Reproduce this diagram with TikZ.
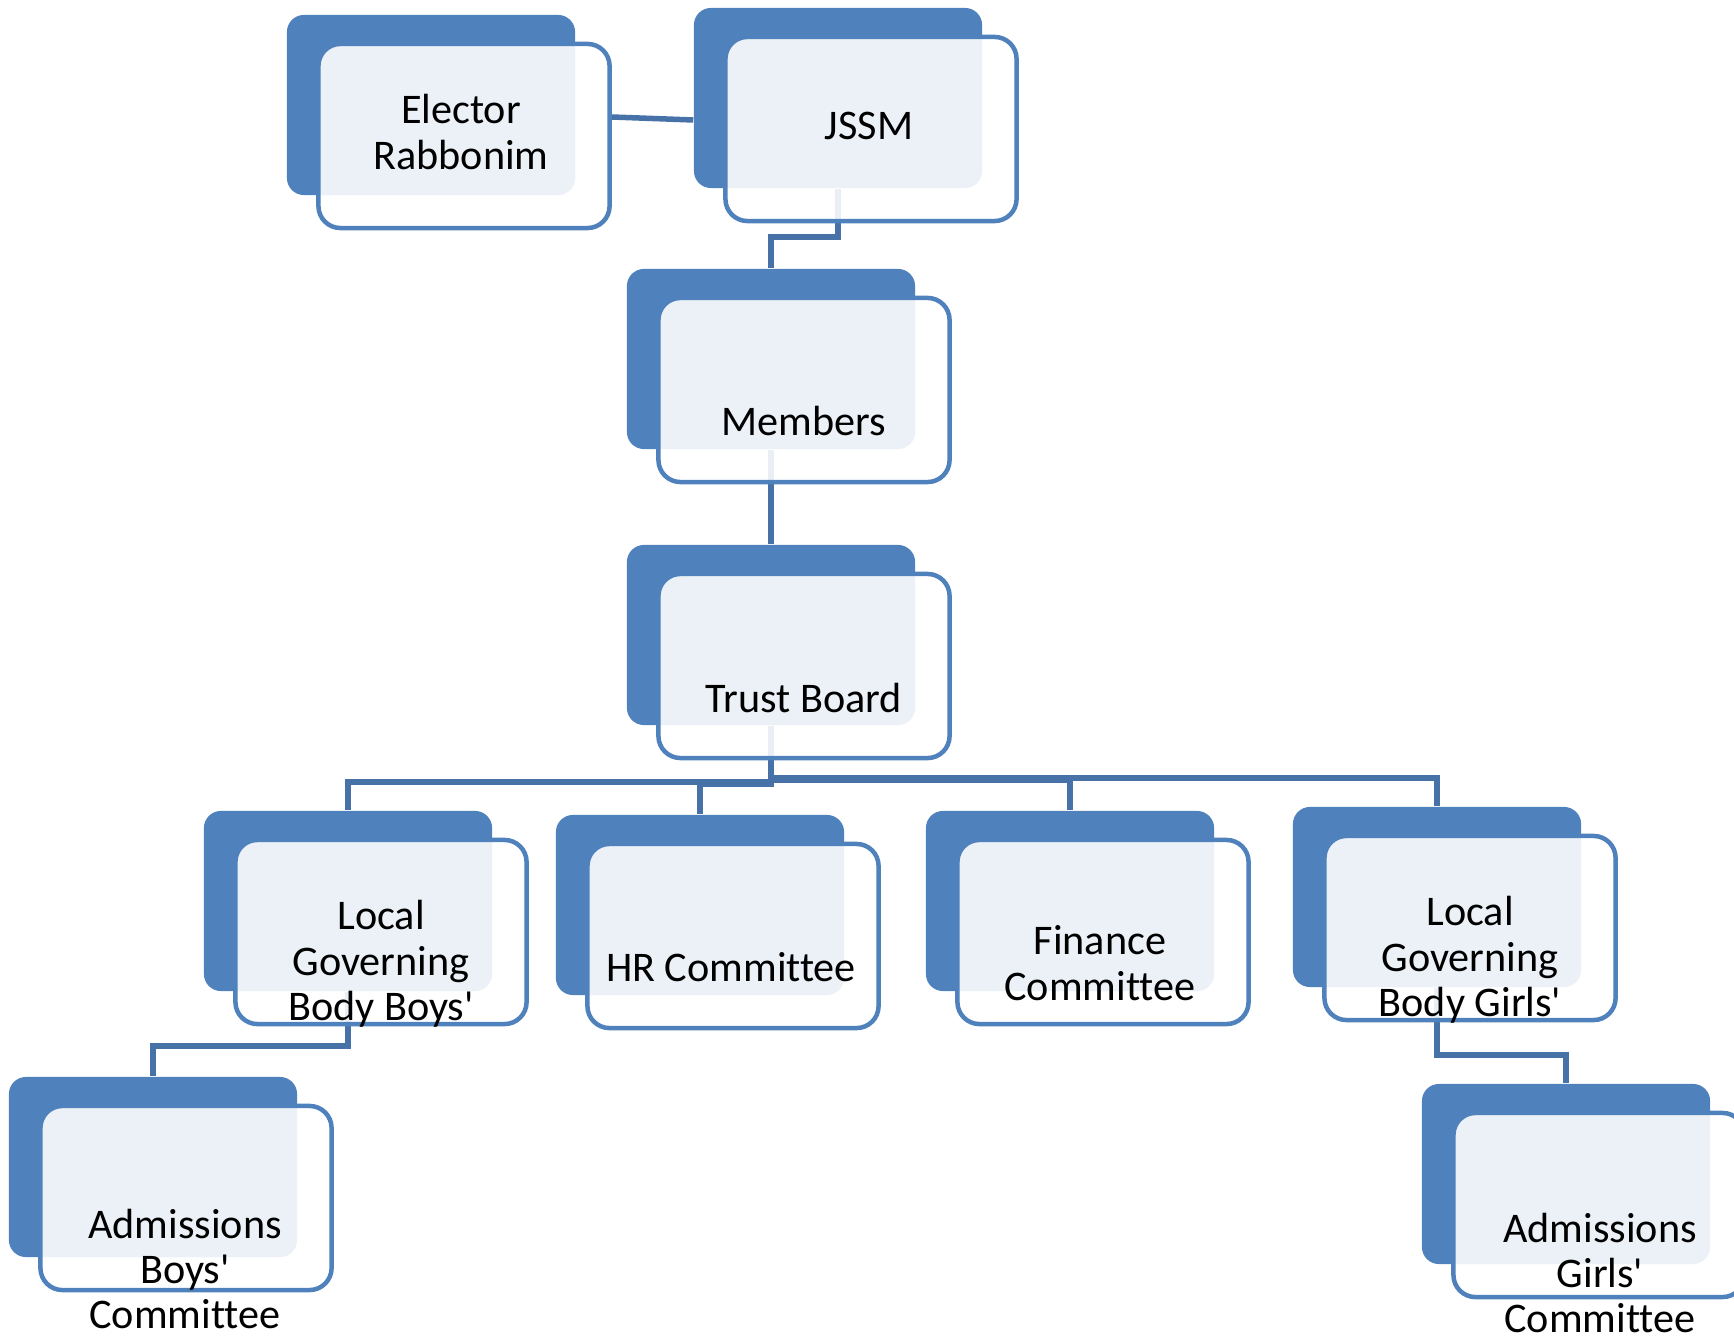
\documentclass[tikz,border=0pt]{standalone}
\usepackage{fontspec}
\setmainfont{Carlito}[Ligatures={TeXOff, NoCommon}]
\usetikzlibrary{positioning, backgrounds}
\definecolor{boxblue}{HTML}{4F81BD}
\definecolor{linkblue}{HTML}{4672A8}

\begin{document}
\begin{tikzpicture}[x=0.01cm, y=-0.01cm, font=\fontsize{12}{12.9}\selectfont,
	darkbox/.style={fill=boxblue, rounded corners=0.17cm, minimum width=2.88cm, minimum height=1.8cm, inner sep=0pt},
	frontbox/.style={fill=white, fill opacity=0.89, draw=boxblue, line width=0.045cm, rounded corners=0.22cm, minimum width=2.91cm, minimum height=1.84cm, inner sep=0pt},
	boxtext/.style={align=center, inner sep=0pt},
	orgline/.style={draw=linkblue, line width=0.055cm}]
	\useasboundingbox (0,0) rectangle (1734,1340);
	% top row
	\node[darkbox] (el) at (431,105) {};
	\node[frontbox] (el-f) at ([shift={(33,31)}]el.center) {};
	\node[boxtext] (el-t) at ([shift={(-3,-4)}]el-f.center) {Elector\\Rabbonim};
	\node[darkbox] (ju) at (838,98) {};
	\node[frontbox] (ju-f) at ([shift={(33,31)}]ju.center) {};
	\node[boxtext] (ju-t) at ([shift={(-2,-3)}]ju-f.center) {JSSM};
	% middle column
	\node[darkbox] (mem) at (771,359) {};
	\node[frontbox] (mem-f) at ([shift={(33,31)}]mem.center) {};
	\node[boxtext] (mem-t) at ([shift={(0,31)}]mem-f.center) {Members};
	\node[darkbox] (tb) at (771,635) {};
	\node[frontbox] (tb-f) at ([shift={(33,31)}]tb.center) {};
	\node[boxtext] (tb-t) at ([shift={(0,32)}]tb-f.center) {Trust Board};
	% committees
	\node[darkbox] (lgbb) at (348,901) {};
	\node[frontbox] (lgbb-f) at ([shift={(33,31)}]lgbb.center) {};
	\node[boxtext] (lgbb-t) at ([shift={(0,32)}]lgbb-f.center) {Local\\Governing\\Body Boys'};
	\node[darkbox] (hr) at (700,905) {};
	\node[frontbox] (hr-f) at ([shift={(33,31)}]hr.center) {};
	\node[boxtext] (hr-t) at ([shift={(-2,31)}]hr-f.center) {HR Committee};
	\node[darkbox] (fin) at (1070,901) {};
	\node[frontbox] (fin-f) at ([shift={(33,31)}]fin.center) {};
	\node[boxtext] (fin-t) at ([shift={(-3,31)}]fin-f.center) {Finance\\Committee};
	\node[darkbox] (lgbg) at (1437,897) {};
	\node[frontbox] (lgbg-f) at ([shift={(33,31)}]lgbg.center) {};
	\node[boxtext] (lgbg-t) at ([shift={(0,32)}]lgbg-f.center) {Local\\Governing\\Body Girls'};
	% admissions
	\node[darkbox] (admb) at (153,1167) {};
	\node[frontbox] (admb-f) at ([shift={(33,31)}]admb.center) {};
	\node[boxtext] (admb-t) at ([shift={(-1,71)}]admb-f.center) {Admissions\\Boys'\\Committee};
	\node[darkbox] (admg) at (1566,1174) {};
	\node[frontbox] (admg-f) at ([shift={(33,31)}]admg.center) {};
	\node[boxtext] (admg-t) at ([shift={(1,68)}]admg-f.center) {Admissions\\Girls'\\Committee};
	% connectors behind the boxes
	\begin{pgfonlayer}{background}
		\draw[orgline] ([shift={(0,-19)}]el-f.east) -- ([shift={(0,22)}]ju.west);
		\draw[orgline] (ju.south) -- ++(0,48) -| (mem.north);
		\draw[orgline] (mem.south) -- (tb.north);
		\draw[orgline] (tb.south) -- ++(0,56) -| (lgbb.north);
		\draw[orgline] (tb.south) -- ++(0,58) -| (hr.north);
		\draw[orgline] (tb.south) -- ++(0,54) -| (fin.north);
		\draw[orgline] (tb.south) -- ++(0,52) -| (lgbg.north);
		\draw[orgline] (lgbb.south) -- ++(0,54) -| (admb.north);
		\draw[orgline] (lgbg.south) -- ++(0,67) -| (admg.north);
	\end{pgfonlayer}
\end{tikzpicture}
\end{document}
